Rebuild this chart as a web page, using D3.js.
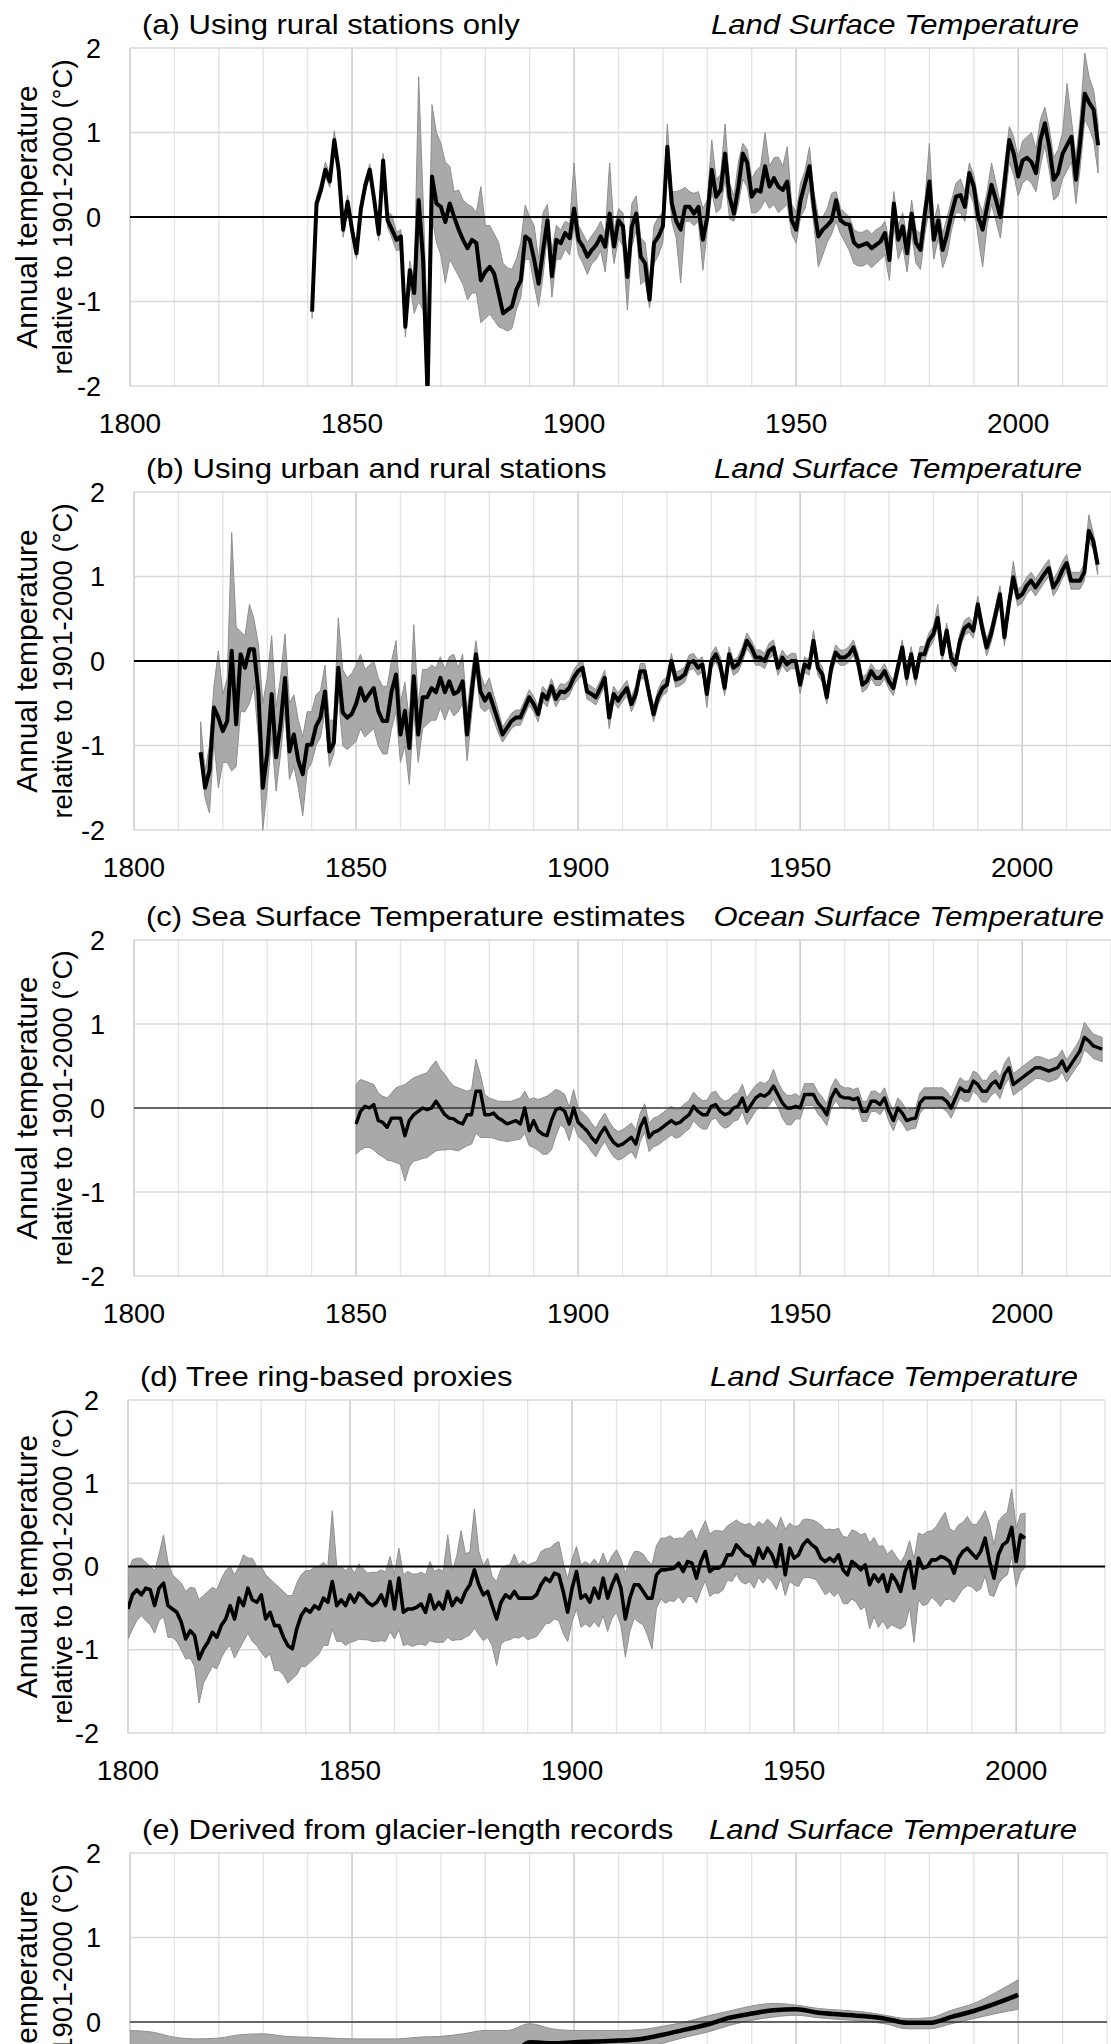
<!DOCTYPE html>
<html>
<head>
<meta charset="utf-8">
<script src="https://cdn.jsdelivr.net/npm/d3@7"></script>
<style>
  body { margin: 0; background: #fff; }
  svg { display: block; }
  text { font-family: "Liberation Sans", Arial, sans-serif; fill: #000; }
</style>
</head>
<body>
<div id="chart"></div>
<script>
////// DATA (anomalies in degC relative to 1901-2000)

// x axis labels, y axis labels, grid decades
var xTickYears = [1800, 1850, 1900, 1950, 2000];
var yTickValues = [-2, -1, 0, 1, 2];
var gridYears = [1800, 1810, 1820, 1830, 1840, 1850, 1860, 1870, 1880, 1890, 1900,
                 1910, 1920, 1930, 1940, 1950, 1960, 1970, 1980, 1990, 2000, 2010, 2020];

var panelTitles = [
    "(a) Using rural stations only",
    "(b) Using urban and rural stations",
    "(c) Sea Surface Temperature estimates",
    "(d) Tree ring-based proxies",
    "(e) Derived from glacier-length records"
];
var panelSubtitles = [
    "Land Surface Temperature",
    "Land Surface Temperature",
    "Ocean Surface Temperature",
    "Land Surface Temperature",
    "Land Surface Temperature"
];
var yLabelTop = "Annual temperature";
var yLabelBottom = "relative to 1901-2000 (\u00B0C)";

// (a) rural stations, 1841-2018
var startA = 1841;
var meanA = [
    -1.12, 0.16, 0.32, 0.56, 0.42, 0.91, 0.55, -0.15, 0.18, -0.15,
    -0.43, 0.10, 0.38, 0.56, 0.20, -0.20, 0.67, -0.04, -0.15, -0.27,
    -0.23, -1.30, -0.63, -0.90, 0.20, -0.50, -2.10, 0.48, 0.16, 0.12,
    -0.06, 0.16, 0.00, -0.15, -0.27, -0.37, -0.27, -0.31, -0.75, -0.65,
    -0.59, -0.67, -0.90, -1.14, -1.10, -1.06, -0.86, -0.75, -0.23, -0.27,
    -0.50, -0.79, -0.40, -0.04, -0.70, -0.27, -0.31, -0.19, -0.25, 0.10,
    -0.27, -0.35, -0.47, -0.39, -0.33, -0.23, -0.35, 0.04, -0.35, -0.04,
    -0.11, -0.71, -0.11, 0.04, -0.47, -0.55, -0.98, -0.31, -0.23, -0.11,
    0.83, 0.16, -0.05, -0.15, 0.12, 0.12, 0.04, 0.12, -0.27, 0.00,
    0.56, 0.24, 0.32, 0.75, 0.24, 0.04, 0.36, 0.75, 0.64, 0.24,
    0.32, 0.30, 0.60, 0.36, 0.46, 0.36, 0.32, 0.42, -0.04, -0.15,
    0.20, 0.40, 0.60, 0.12, -0.23, -0.15, -0.10, -0.04, 0.20, -0.04,
    -0.08, -0.09, -0.30, -0.35, -0.33, -0.31, -0.37, -0.33, -0.29, -0.19,
    -0.51, 0.16, -0.27, -0.11, -0.43, 0.04, -0.31, -0.39, 0.04, 0.42,
    -0.27, -0.04, -0.39, -0.20, 0.04, 0.24, 0.26, 0.12, 0.52, 0.36,
    0.00, -0.15, 0.12, 0.38, 0.20, 0.00, 0.44, 0.91, 0.75, 0.48,
    0.67, 0.70, 0.65, 0.52, 0.91, 1.11, 0.83, 0.44, 0.52, 0.75,
    0.85, 0.95, 0.44, 0.91, 1.46, 1.35, 1.27, 0.85
];
var loA = [
    -1.20, 0.08, 0.25, 0.48, 0.35, 0.84, 0.48, -0.24, 0.10, -0.24,
    -0.50, 0.03, 0.30, 0.48, 0.12, -0.28, 0.58, -0.12, -0.25, -0.40,
    -0.38, -1.42, -0.78, -1.14, -1.00, -1.10, -2.30, 0.00, -0.30, -0.45,
    -0.78, -0.50, -0.60, -0.70, -0.80, -0.98, -0.90, -0.90, -1.25, -1.20,
    -1.15, -1.22, -1.30, -1.32, -1.35, -1.32, -1.10, -0.95, -0.50, -0.50,
    -0.80, -1.06, -0.70, -0.20, -0.95, -0.50, -0.50, -0.38, -0.45, -0.10,
    -0.45, -0.55, -0.68, -0.55, -0.50, -0.40, -0.65, -0.15, -0.55, -0.25,
    -0.35, -1.10, -0.35, -0.15, -0.80, -0.75, -1.08, -0.55, -0.45, -0.30,
    0.60, -0.05, -0.25, -0.78, -0.05, -0.05, -0.10, -0.05, -0.63, -0.15,
    0.30, 0.05, 0.10, 0.45, -0.02, -0.05, 0.15, 0.45, 0.35, 0.05,
    0.05, 0.10, 0.20, 0.10, 0.15, 0.05, 0.10, 0.15, -0.20, -0.31,
    0.00, 0.10, 0.35, -0.10, -0.59, -0.45, -0.30, -0.20, -0.05, -0.20,
    -0.30, -0.40, -0.55, -0.58, -0.58, -0.55, -0.60, -0.55, -0.50, -0.45,
    -0.75, -0.10, -0.50, -0.35, -0.65, -0.20, -0.55, -0.62, -0.20, 0.10,
    -0.50, -0.25, -0.60, -0.45, -0.15, 0.05, 0.05, -0.05, 0.30, 0.15,
    -0.25, -0.59, -0.10, 0.15, -0.05, -0.25, 0.20, 0.65, 0.50, 0.25,
    0.40, 0.45, 0.40, 0.30, 0.60, 0.85, 0.55, 0.20, 0.25, 0.45,
    0.55, 0.65, 0.16, 0.60, 1.15, 1.05, 0.90, 0.52
];
var hiA = [
    -1.05, 0.24, 0.42, 0.65, 0.50, 1.02, 0.62, -0.08, 0.26, -0.08,
    -0.36, 0.17, 0.45, 0.63, 0.27, -0.12, 0.75, 0.06, 0.02, -0.18,
    -0.15, -1.15, -0.52, -0.75, 1.66, 0.20, -1.40, 1.33, 1.00, 0.87,
    0.65, 0.60, 0.30, 0.32, 0.20, 0.15, 0.12, 0.05, 0.36, -0.10,
    -0.10, -0.20, -0.30, -0.55, -0.60, -0.62, -0.50, -0.30, 0.14, 0.00,
    -0.10, -0.50, 0.05, 0.15, -0.40, -0.10, -0.15, -0.05, -0.08, 0.64,
    -0.10, -0.20, -0.30, -0.22, -0.15, -0.05, -0.20, 0.64, -0.15, 0.10,
    0.05, -0.50, 0.16, 0.25, -0.25, -0.30, -0.75, -0.10, 0.00, 0.05,
    1.10, 0.30, 0.30, 0.32, 0.35, 0.30, 0.28, 0.30, 0.10, 0.20,
    0.91, 0.45, 0.50, 1.10, 0.40, 0.25, 0.65, 0.87, 0.80, 0.45,
    0.55, 0.60, 1.00, 0.60, 0.70, 0.71, 0.60, 0.83, 0.15, 0.05,
    0.40, 0.55, 0.83, 0.30, 0.00, 0.00, 0.10, 0.28, 0.30, 0.10,
    0.05, 0.00, -0.15, -0.18, -0.18, -0.15, -0.20, -0.15, -0.12, -0.05,
    -0.30, 0.30, -0.10, 0.05, -0.25, 0.20, -0.15, -0.20, 0.20, 0.87,
    -0.05, 0.15, -0.20, 0.00, 0.20, 0.40, 0.45, 0.30, 0.64, 0.50,
    0.20, 0.05, 0.30, 0.64, 0.40, 0.15, 0.65, 1.07, 0.95, 0.70,
    0.90, 0.95, 1.00, 0.80, 1.15, 1.30, 1.05, 0.70, 0.80, 1.00,
    1.58, 1.15, 0.70, 1.20, 1.94, 1.65, 1.50, 1.10
];

// (b) urban and rural stations, 1815-2017 (band given as distance above / below the mean)
var startB = 1815;
var meanB = [
    -1.08, -1.50, -1.30, -0.55, -0.67,
    -0.83, -0.71, 0.12, -0.75, 0.08, -0.08, 0.14, 0.14, -0.36, -1.50,
    -1.10, -0.39, -1.14, -0.75, -0.20, -1.07, -0.87, -1.18, -1.34, -0.99,
    -0.99, -0.77, -0.67, -0.36, -1.07, -0.97, -0.08, -0.61, -0.67, -0.63,
    -0.51, -0.32, -0.47, -0.39, -0.32, -0.59, -0.71, -0.71, -0.36, -0.16,
    -0.87, -0.59, -1.03, -0.18, -0.87, -0.43, -0.43, -0.32, -0.37, -0.20,
    -0.37, -0.24, -0.39, -0.36, -0.24, -0.87, -0.39, 0.08, -0.36, -0.47,
    -0.39, -0.55, -0.71, -0.87, -0.79, -0.71, -0.67, -0.67, -0.55, -0.43,
    -0.51, -0.63, -0.39, -0.45, -0.30, -0.45, -0.36, -0.37, -0.32, -0.20,
    -0.12, -0.08, -0.36, -0.39, -0.43, -0.32, -0.20, -0.67, -0.39, -0.47,
    -0.39, -0.32, -0.51, -0.39, -0.12, -0.12, -0.39, -0.63, -0.43, -0.32,
    -0.28, 0.00, -0.22, -0.20, -0.16, -0.02, 0.00, -0.08, -0.04, -0.39,
    0.00, 0.08, -0.04, -0.32, 0.08, -0.08, -0.04, 0.08, 0.24, 0.16,
    0.04, 0.04, 0.00, 0.12, 0.16, -0.08, 0.04, -0.04, 0.00, 0.00,
    -0.28, -0.04, -0.08, 0.24, -0.08, -0.16, -0.43, -0.08, 0.10, 0.04,
    0.04, 0.08, 0.16, 0.00, -0.28, -0.24, -0.12, -0.20, -0.20, -0.12,
    -0.24, -0.32, -0.08, 0.16, -0.20, 0.08, -0.20, 0.08, 0.08, 0.24,
    0.32, 0.51, 0.08, 0.36, 0.04, -0.04, 0.24, 0.39, 0.43, 0.36,
    0.67, 0.39, 0.16, 0.32, 0.55, 0.79, 0.28, 0.67, 0.99, 0.75,
    0.79, 0.89, 0.95, 0.87, 0.95, 1.03, 1.10, 0.87, 0.95, 1.07,
    1.16, 0.95, 0.95, 0.95, 1.05, 1.54, 1.42, 1.14
];
var upB = [
    0.36, 0.20, 0.30, 0.25, 0.79,
    0.43, 0.51, 1.40, 1.15, 0.27, 0.38, 0.53, 0.36, 0.56, 1.00,
    0.90, 0.69, 0.59, 0.55, 0.52, 0.57, 0.47, 0.48, 0.44, 0.39,
    0.39, 0.37, 0.32, 0.31, 0.37, 0.27, 0.59, 0.51, 0.47, 0.48,
    0.46, 0.40, 0.37, 0.34, 0.32, 0.39, 0.41, 0.41, 0.36, 0.40,
    0.37, 0.34, 0.33, 0.61, 0.37, 0.33, 0.33, 0.27, 0.29, 0.25,
    0.27, 0.29, 0.47, 0.28, 0.32, 0.27, 0.24, 0.16, 0.21, 0.17,
    0.19, 0.15, 0.13, 0.09, 0.09, 0.09, 0.09, 0.09, 0.09, 0.09,
    0.09, 0.09, 0.09, 0.09, 0.09, 0.09, 0.09, 0.09, 0.09, 0.09,
    0.09, 0.09, 0.09, 0.09, 0.09, 0.09, 0.09, 0.09, 0.09, 0.09,
    0.09, 0.09, 0.09, 0.09, 0.09, 0.09, 0.09, 0.09, 0.09, 0.09,
    0.09, 0.09, 0.09, 0.09, 0.09, 0.09, 0.09, 0.09, 0.09, 0.09,
    0.09, 0.09, 0.09, 0.09, 0.09, 0.09, 0.09, 0.09, 0.09, 0.09,
    0.09, 0.09, 0.09, 0.09, 0.09, 0.09, 0.09, 0.09, 0.09, 0.09,
    0.09, 0.09, 0.09, 0.12, 0.09, 0.09, 0.09, 0.09, 0.09, 0.09,
    0.09, 0.09, 0.09, 0.09, 0.09, 0.09, 0.09, 0.09, 0.09, 0.09,
    0.09, 0.09, 0.09, 0.09, 0.09, 0.09, 0.09, 0.09, 0.09, 0.09,
    0.09, 0.16, 0.09, 0.09, 0.09, 0.09, 0.09, 0.09, 0.09, 0.09,
    0.10, 0.10, 0.10, 0.10, 0.10, 0.10, 0.10, 0.10, 0.19, 0.10,
    0.10, 0.10, 0.10, 0.10, 0.10, 0.10, 0.10, 0.10, 0.10, 0.10,
    0.10, 0.10, 0.10, 0.10, 0.10, 0.19, 0.10, 0.10
];
var dnB = [
    0.07, 0.12, 0.50, 0.40, 0.83,
    0.37, 0.49, 1.42, 0.50, 0.68, 0.52, 0.64, 0.44, 0.54, 0.50,
    0.40, 0.51, 0.40, 0.35, 0.40, 0.33, 0.38, 0.32, 0.49, 0.31,
    0.21, 0.23, 0.23, 0.24, 0.18, 0.13, 0.32, 0.39, 0.38, 0.37,
    0.44, 0.48, 0.43, 0.46, 0.48, 0.41, 0.39, 0.39, 0.44, 0.44,
    0.33, 0.41, 0.43, 0.42, 0.33, 0.37, 0.32, 0.38, 0.33, 0.35,
    0.33, 0.31, 0.26, 0.24, 0.26, 0.31, 0.26, 0.18, 0.19, 0.13,
    0.16, 0.15, 0.14, 0.09, 0.09, 0.09, 0.09, 0.09, 0.09, 0.09,
    0.09, 0.09, 0.09, 0.09, 0.09, 0.09, 0.09, 0.09, 0.09, 0.09,
    0.09, 0.09, 0.09, 0.09, 0.09, 0.09, 0.09, 0.13, 0.09, 0.09,
    0.09, 0.09, 0.09, 0.09, 0.09, 0.09, 0.09, 0.09, 0.09, 0.09,
    0.09, 0.09, 0.09, 0.09, 0.09, 0.09, 0.09, 0.09, 0.09, 0.16,
    0.09, 0.09, 0.09, 0.09, 0.09, 0.09, 0.09, 0.09, 0.09, 0.09,
    0.09, 0.09, 0.09, 0.09, 0.09, 0.09, 0.09, 0.09, 0.09, 0.09,
    0.11, 0.09, 0.09, 0.09, 0.09, 0.09, 0.08, 0.09, 0.09, 0.09,
    0.09, 0.09, 0.09, 0.09, 0.09, 0.09, 0.09, 0.09, 0.09, 0.09,
    0.09, 0.09, 0.09, 0.09, 0.09, 0.09, 0.09, 0.09, 0.09, 0.09,
    0.09, 0.09, 0.09, 0.09, 0.09, 0.09, 0.09, 0.09, 0.09, 0.09,
    0.10, 0.10, 0.10, 0.10, 0.10, 0.10, 0.10, 0.10, 0.10, 0.10,
    0.10, 0.10, 0.10, 0.10, 0.10, 0.10, 0.10, 0.10, 0.10, 0.10,
    0.10, 0.10, 0.10, 0.10, 0.10, 0.12, 0.10, 0.12
];

// (c) sea surface temperature, 1850-2018
var startC = 1850;
var meanC = [
    -0.19, -0.04, 0.02, 0.00, 0.04, -0.15, -0.17, -0.23, -0.12, -0.12,
    -0.12, -0.33, -0.15, -0.08, -0.04, 0.00, -0.02, 0.00, 0.08, 0.00,
    -0.08, -0.12, -0.13, -0.17, -0.19, -0.08, -0.08, 0.20, 0.20, -0.08,
    -0.08, -0.06, -0.12, -0.15, -0.19, -0.17, -0.15, -0.19, 0.00, -0.27,
    -0.15, -0.27, -0.31, -0.33, -0.15, -0.02, 0.00, -0.04, -0.19, 0.00,
    -0.17, -0.22, -0.27, -0.35, -0.41, -0.31, -0.23, -0.33, -0.41, -0.45,
    -0.43, -0.39, -0.35, -0.43, -0.23, -0.12, -0.35, -0.29, -0.27, -0.23,
    -0.19, -0.15, -0.19, -0.17, -0.12, -0.08, 0.02, -0.04, -0.08, -0.08,
    0.02, 0.04, -0.04, -0.08, -0.06, 0.00, 0.02, 0.12, -0.04, 0.04,
    0.12, 0.16, 0.14, 0.18, 0.26, 0.16, 0.06, 0.00, 0.00, 0.02,
    0.00, 0.16, 0.16, 0.16, 0.06, 0.00, -0.08, 0.12, 0.22, 0.14,
    0.12, 0.12, 0.10, 0.12, -0.04, -0.04, 0.08, 0.08, 0.04, 0.12,
    -0.04, -0.15, 0.00, -0.06, -0.15, -0.13, -0.12, 0.06, 0.12, 0.12,
    0.12, 0.12, 0.12, 0.08, 0.00, 0.12, 0.24, 0.20, 0.20, 0.32,
    0.28, 0.20, 0.20, 0.28, 0.32, 0.24, 0.40, 0.48, 0.28, 0.32,
    0.36, 0.40, 0.44, 0.48, 0.48, 0.46, 0.44, 0.46, 0.48, 0.56,
    0.44, 0.52, 0.60, 0.68, 0.84, 0.80, 0.74, 0.72, 0.70
];
var upC = [
    0.47, 0.38, 0.30, 0.30, 0.24, 0.33, 0.31, 0.35, 0.30, 0.36,
    0.38, 0.61, 0.47, 0.44, 0.42, 0.40, 0.44, 0.50, 0.48, 0.46,
    0.48, 0.44, 0.39, 0.41, 0.41, 0.28, 0.30, 0.38, 0.20, 0.24,
    0.20, 0.16, 0.20, 0.23, 0.27, 0.25, 0.25, 0.31, 0.20, 0.37,
    0.27, 0.37, 0.43, 0.47, 0.33, 0.24, 0.20, 0.20, 0.20, 0.22,
    0.17, 0.17, 0.17, 0.17, 0.17, 0.17, 0.17, 0.17, 0.17, 0.17,
    0.17, 0.17, 0.17, 0.17, 0.17, 0.17, 0.17, 0.17, 0.17, 0.17,
    0.17, 0.17, 0.17, 0.17, 0.17, 0.17, 0.17, 0.17, 0.17, 0.17,
    0.16, 0.16, 0.16, 0.16, 0.16, 0.16, 0.16, 0.16, 0.16, 0.16,
    0.15, 0.15, 0.15, 0.15, 0.20, 0.15, 0.15, 0.15, 0.15, 0.15,
    0.13, 0.13, 0.13, 0.13, 0.13, 0.13, 0.13, 0.13, 0.13, 0.13,
    0.12, 0.12, 0.12, 0.12, 0.12, 0.12, 0.12, 0.12, 0.12, 0.12,
    0.12, 0.12, 0.12, 0.12, 0.12, 0.12, 0.12, 0.12, 0.12, 0.12,
    0.12, 0.12, 0.12, 0.12, 0.12, 0.12, 0.12, 0.12, 0.12, 0.12,
    0.13, 0.13, 0.13, 0.13, 0.13, 0.13, 0.13, 0.13, 0.13, 0.13,
    0.13, 0.13, 0.13, 0.13, 0.13, 0.13, 0.13, 0.13, 0.13, 0.13,
    0.13, 0.13, 0.13, 0.14, 0.18, 0.15, 0.14, 0.14, 0.14
];
var dnC = [
    0.36, 0.46, 0.49, 0.47, 0.54, 0.40, 0.41, 0.39, 0.51, 0.53,
    0.55, 0.54, 0.55, 0.55, 0.58, 0.60, 0.57, 0.55, 0.59, 0.50,
    0.42, 0.37, 0.37, 0.34, 0.29, 0.37, 0.35, 0.50, 0.55, 0.27,
    0.27, 0.30, 0.26, 0.24, 0.21, 0.22, 0.23, 0.18, 0.30, 0.18,
    0.32, 0.23, 0.24, 0.22, 0.35, 0.31, 0.20, 0.20, 0.20, 0.20,
    0.17, 0.17, 0.17, 0.17, 0.17, 0.17, 0.17, 0.17, 0.17, 0.17,
    0.17, 0.17, 0.17, 0.17, 0.17, 0.17, 0.17, 0.17, 0.17, 0.17,
    0.17, 0.17, 0.17, 0.17, 0.17, 0.17, 0.17, 0.17, 0.17, 0.17,
    0.16, 0.16, 0.16, 0.16, 0.16, 0.16, 0.16, 0.16, 0.16, 0.16,
    0.15, 0.15, 0.15, 0.15, 0.15, 0.15, 0.18, 0.20, 0.20, 0.15,
    0.13, 0.13, 0.13, 0.13, 0.13, 0.13, 0.13, 0.13, 0.13, 0.13,
    0.12, 0.12, 0.12, 0.12, 0.12, 0.12, 0.12, 0.12, 0.12, 0.12,
    0.12, 0.12, 0.12, 0.12, 0.12, 0.12, 0.12, 0.12, 0.12, 0.12,
    0.12, 0.12, 0.12, 0.12, 0.12, 0.12, 0.12, 0.12, 0.12, 0.12,
    0.13, 0.13, 0.13, 0.13, 0.13, 0.13, 0.13, 0.13, 0.13, 0.13,
    0.13, 0.13, 0.13, 0.13, 0.13, 0.13, 0.13, 0.13, 0.13, 0.13,
    0.13, 0.13, 0.13, 0.14, 0.15, 0.15, 0.15, 0.15, 0.15
];

// (d) tree ring-based proxies, 1800-2002
var startD = 1800;
var meanD = [
    -0.51, -0.34, -0.28, -0.34, -0.26, -0.28, -0.47, -0.26, -0.20, -0.47,
    -0.51, -0.55, -0.67, -0.87, -0.77, -0.83, -1.11, -0.99, -0.91, -0.79,
    -0.85, -0.71, -0.63, -0.47, -0.63, -0.38, -0.47, -0.26, -0.40, -0.43,
    -0.34, -0.63, -0.55, -0.71, -0.71, -0.85, -0.95, -0.99, -0.75, -0.59,
    -0.51, -0.55, -0.47, -0.51, -0.38, -0.43, -0.18, -0.47, -0.40, -0.47,
    -0.34, -0.43, -0.32, -0.36, -0.43, -0.47, -0.43, -0.34, -0.47, -0.18,
    -0.51, -0.14, -0.55, -0.51, -0.51, -0.49, -0.45, -0.55, -0.34, -0.51,
    -0.43, -0.51, -0.30, -0.47, -0.38, -0.43, -0.30, -0.22, -0.04, -0.22,
    -0.34, -0.30, -0.47, -0.63, -0.43, -0.34, -0.38, -0.30, -0.38, -0.38,
    -0.38, -0.38, -0.34, -0.22, -0.14, -0.18, -0.08, -0.10, -0.30, -0.55,
    -0.26, -0.06, -0.38, -0.34, -0.43, -0.26, -0.38, -0.14, -0.38, -0.22,
    -0.10, -0.26, -0.63, -0.38, -0.22, -0.22, -0.30, -0.38, -0.38, -0.10,
    -0.04, -0.04, -0.03, -0.02, 0.04, -0.06, 0.06, 0.04, -0.14, 0.06,
    0.18, -0.06, -0.02, -0.02, 0.02, 0.14, 0.14, 0.26, 0.20, 0.14,
    0.12, 0.02, 0.22, 0.10, 0.22, 0.14, 0.00, 0.26, -0.10, 0.22,
    0.10, 0.14, 0.26, 0.32, 0.26, 0.22, 0.10, 0.06, 0.10, 0.06,
    0.14, -0.04, -0.10, 0.06, 0.02, -0.04, 0.02, -0.22, -0.10, -0.18,
    -0.10, -0.30, -0.10, -0.18, -0.30, -0.06, 0.06, -0.26, 0.10, -0.02,
    0.00, 0.08, 0.08, 0.12, 0.10, 0.06, -0.08, 0.10, 0.18, 0.22,
    0.16, 0.10, 0.18, 0.34, 0.06, -0.14, 0.14, 0.26, 0.30, 0.47,
    0.06, 0.38, 0.34
];
var upD = [
    0.45, 0.42, 0.38, 0.44, 0.31, 0.28, 0.42, 0.41, 0.58, 0.52,
    0.41, 0.40, 0.47, 0.57, 0.52, 0.57, 0.71, 0.64, 0.61, 0.54,
    0.57, 0.56, 0.58, 0.47, 0.53, 0.38, 0.61, 0.36, 0.50, 0.43,
    0.34, 0.53, 0.40, 0.51, 0.46, 0.55, 0.60, 0.64, 0.55, 0.49,
    0.46, 0.50, 0.47, 0.51, 0.43, 0.43, 0.85, 0.47, 0.40, 0.42,
    0.34, 0.35, 0.35, 0.33, 0.35, 0.40, 0.36, 0.30, 0.40, 0.30,
    0.42, 0.36, 0.45, 0.45, 0.42, 0.40, 0.38, 0.45, 0.40, 0.45,
    0.40, 0.45, 0.68, 0.42, 0.50, 0.86, 0.45, 0.40, 0.73, 0.40,
    0.35, 0.40, 0.35, 0.45, 0.40, 0.35, 0.40, 0.45, 0.40, 0.45,
    0.40, 0.42, 0.40, 0.40, 0.35, 0.40, 0.35, 0.40, 0.35, 0.40,
    0.35, 0.30, 0.40, 0.40, 0.45, 0.35, 0.40, 0.30, 0.40, 0.35,
    0.30, 0.35, 0.55, 0.45, 0.40, 0.40, 0.45, 0.45, 0.40, 0.35,
    0.38, 0.38, 0.40, 0.35, 0.30, 0.40, 0.35, 0.40, 0.45, 0.38,
    0.37, 0.45, 0.45, 0.45, 0.40, 0.35, 0.38, 0.30, 0.32, 0.36,
    0.40, 0.45, 0.32, 0.40, 0.35, 0.38, 0.45, 0.33, 0.55, 0.30,
    0.38, 0.35, 0.30, 0.25, 0.30, 0.32, 0.40, 0.38, 0.35, 0.38,
    0.32, 0.40, 0.45, 0.38, 0.40, 0.42, 0.38, 0.50, 0.45, 0.42,
    0.35, 0.45, 0.30, 0.30, 0.35, 0.20, 0.25, 0.35, 0.30, 0.40,
    0.42, 0.35, 0.40, 0.45, 0.55, 0.40, 0.50, 0.40, 0.35, 0.38,
    0.35, 0.40, 0.40, 0.33, 0.45, 0.40, 0.40, 0.35, 0.35, 0.46,
    0.40, 0.25, 0.30
];
var dnD = [
    0.36, 0.41, 0.37, 0.25, 0.39, 0.42, 0.33, 0.39, 0.40, 0.38,
    0.34, 0.35, 0.33, 0.24, 0.33, 0.37, 0.53, 0.41, 0.39, 0.41,
    0.38, 0.39, 0.37, 0.48, 0.47, 0.62, 0.43, 0.54, 0.50, 0.52,
    0.69, 0.47, 0.50, 0.54, 0.54, 0.45, 0.45, 0.36, 0.55, 0.61,
    0.69, 0.60, 0.63, 0.54, 0.57, 0.52, 0.57, 0.43, 0.50, 0.48,
    0.57, 0.47, 0.55, 0.52, 0.45, 0.43, 0.47, 0.55, 0.43, 0.60,
    0.36, 0.62, 0.40, 0.42, 0.45, 0.45, 0.48, 0.40, 0.55, 0.40,
    0.48, 0.40, 0.55, 0.42, 0.50, 0.45, 0.55, 0.60, 0.70, 0.60,
    0.55, 0.55, 0.48, 0.56, 0.50, 0.55, 0.50, 0.55, 0.48, 0.45,
    0.50, 0.48, 0.50, 0.55, 0.55, 0.50, 0.55, 0.55, 0.50, 0.35,
    0.40, 0.45, 0.35, 0.35, 0.30, 0.40, 0.35, 0.45, 0.40, 0.40,
    0.45, 0.45, 0.46, 0.40, 0.40, 0.45, 0.40, 0.45, 0.61, 0.40,
    0.35, 0.40, 0.38, 0.40, 0.40, 0.38, 0.42, 0.40, 0.30, 0.35,
    0.35, 0.30, 0.30, 0.30, 0.30, 0.30, 0.32, 0.35, 0.38, 0.35,
    0.30, 0.28, 0.35, 0.30, 0.35, 0.32, 0.28, 0.40, 0.25, 0.40,
    0.32, 0.38, 0.40, 0.45, 0.40, 0.38, 0.35, 0.40, 0.40, 0.42,
    0.45, 0.40, 0.35, 0.45, 0.45, 0.48, 0.50, 0.53, 0.50, 0.55,
    0.55, 0.45, 0.60, 0.55, 0.45, 0.65, 0.55, 0.65, 0.50, 0.45,
    0.45, 0.45, 0.50, 0.60, 0.50, 0.45, 0.35, 0.45, 0.45, 0.45,
    0.40, 0.40, 0.45, 0.45, 0.40, 0.22, 0.35, 0.40, 0.40, 0.35,
    0.30, 0.45, 0.35
];

// (e) glacier-length records, smooth series read every 5 years
var yearsE = [1800, 1805, 1810, 1815, 1820, 1825, 1830, 1835, 1840, 1845, 1850, 1855, 1860, 1865,
              1870, 1875, 1880, 1885, 1890, 1895, 1900, 1905, 1910, 1915, 1920, 1925, 1930, 1935,
              1940, 1945, 1950, 1955, 1960, 1965, 1970, 1975, 1980, 1985, 1990, 1995, 2000];
var meanE = [-0.45, -0.47, -0.52, -0.55, -0.55, -0.50, -0.50, -0.52, -0.55, -0.56, -0.57, -0.57, -0.57, -0.55,
             -0.54, -0.50, -0.46, -0.45, -0.24, -0.25, -0.24, -0.23, -0.22, -0.20, -0.15, -0.09, -0.03, 0.05,
             0.10, 0.14, 0.15, 0.11, 0.09, 0.07, 0.04, -0.01, -0.01, 0.06, 0.13, 0.22, 0.32];
var hiE = [-0.10, -0.12, -0.18, -0.20, -0.19, -0.15, -0.14, -0.17, -0.18, -0.19, -0.20, -0.20, -0.20, -0.18,
           -0.17, -0.14, -0.10, -0.10, -0.02, -0.08, -0.10, -0.10, -0.10, -0.09, -0.05, 0.00, 0.07, 0.13,
           0.19, 0.22, 0.20, 0.16, 0.14, 0.12, 0.08, 0.04, 0.05, 0.14, 0.22, 0.35, 0.50];
var loE = [-0.80, -0.82, -0.86, -0.90, -0.91, -0.85, -0.86, -0.87, -0.92, -0.93, -0.94, -0.94, -0.94, -0.92,
           -0.91, -0.86, -0.82, -0.80, -0.40, -0.38, -0.36, -0.34, -0.33, -0.31, -0.25, -0.18, -0.12, -0.04,
           0.02, 0.06, 0.08, 0.05, 0.03, 0.01, -0.02, -0.08, -0.08, -0.02, 0.04, 0.10, 0.15];

////// BUILD ROW TABLES FOR D3
function annualRows(start, mean, lo, hi) {
    return mean.map(function(v, i) {
        return { yr: start + i, v: v, lo: lo[i], hi: hi[i] };
    });
}
function offsetRows(start, mean, up, dn) {
    return mean.map(function(v, i) {
        return { yr: start + i, v: v, lo: v - dn[i], hi: v + up[i] };
    });
}
var rowsE = yearsE.map(function(yr, i) {
    return { yr: yr, v: meanE[i], lo: loE[i], hi: hiE[i] };
});

////// PANEL LAYOUT
var pageHeight = 2044;
var panels = [
    { id: "a", rows: annualRows(startA, meanA, loA, hiA), top: 48, bottom: 386, dx: 0, zeroW: 2, lineW: 4, subEnd: 1079, curve: d3.curveLinear },
    { id: "b", rows: offsetRows(startB, meanB, upB, dnB), top: 492, bottom: 830, dx: 4, zeroW: 2, lineW: 4, subEnd: 1082, curve: d3.curveLinear },
    { id: "c", rows: offsetRows(startC, meanC, upC, dnC), top: 940, bottom: 1276, dx: 4, zeroW: 1.3, lineW: 3.4, subEnd: 1104, curve: d3.curveLinear },
    { id: "d", rows: offsetRows(startD, meanD, upD, dnD), top: 1400, bottom: 1733, dx: -2, zeroW: 2, lineW: 3.6, subEnd: 1078, curve: d3.curveLinear },
    { id: "e", rows: rowsE, top: 1853, bottom: 2191, dx: 0, zeroW: 1.3, lineW: 4.5, subEnd: 1077, curve: d3.curveMonotoneX }
];

////// SETUP SVG
var svg = d3.select("#chart")
    .append("svg")
    .attr("width", 1111)
    .attr("height", pageHeight);

var defs = svg.append("defs");

function drawPanel(p, idx) {
    var x = d3.scaleLinear().domain([1800, 2020]).range([130 + p.dx, 1107 + p.dx]);
    var y = d3.scaleLinear().domain([-2, 2]).range([p.bottom, p.top]);
    var g = svg.append("g").attr("class", "panel-" + p.id);

    // clip marks to the plot area
    defs.append("clipPath").attr("id", "clip-" + p.id)
        .append("rect")
        .attr("x", x(1800)).attr("y", y(2))
        .attr("width", x(2020) - x(1800)).attr("height", y(-2) - y(2));

    // vertical grid, every decade, a little darker every 50 years
    g.selectAll("line.vgrid").data(gridYears).enter().append("line")
        .attr("x1", function(d) { return x(d); })
        .attr("x2", function(d) { return x(d); })
        .attr("y1", y(2)).attr("y2", y(-2))
        .attr("stroke", function(d) { return d % 50 === 0 ? "#cdcdcd" : "#e3e3e3"; })
        .attr("stroke-width", function(d) { return d % 50 === 0 ? 1.6 : 1.3; });

    // horizontal grid
    g.selectAll("line.hgrid").data(yTickValues.filter(function(v) { return v !== 0; })).enter().append("line")
        .attr("x1", x(1800)).attr("x2", x(2020))
        .attr("y1", function(d) { return y(d); })
        .attr("y2", function(d) { return y(d); })
        .attr("stroke", "#d8d8d8")
        .attr("stroke-width", 1.5);

    // uncertainty band
    g.append("path").datum(p.rows)
        .attr("clip-path", "url(#clip-" + p.id + ")")
        .attr("d", d3.area()
            .curve(p.curve)
            .x(function(d) { return x(d.yr); })
            .y0(function(d) { return y(d.lo); })
            .y1(function(d) { return y(d.hi); }))
        .attr("fill", "#a9a9a9")
        .attr("stroke", "#8e8e8e")
        .attr("stroke-width", 1);

    // zero line
    g.append("line")
        .attr("x1", x(1800)).attr("x2", x(2020))
        .attr("y1", y(0)).attr("y2", y(0))
        .attr("stroke", p.zeroW < 2 ? "#333" : "#000")
        .attr("stroke-width", p.zeroW);

    // mean
    g.append("path").datum(p.rows)
        .attr("clip-path", "url(#clip-" + p.id + ")")
        .attr("d", d3.line()
            .curve(p.curve)
            .x(function(d) { return x(d.yr); })
            .y(function(d) { return y(d.v); }))
        .attr("fill", "none")
        .attr("stroke", "#000")
        .attr("stroke-width", p.lineW)
        .attr("stroke-linejoin", "round");

    // x tick labels (only those that fall on the page)
    if (p.bottom + 47 < pageHeight) {
        g.selectAll("text.xtick").data(xTickYears).enter().append("text")
            .attr("transform", function(d) { return "translate(" + x(d) + "," + (p.bottom + 47) + ")"; })
            .attr("text-anchor", "middle")
            .attr("font-size", "28px")
            .text(function(d) { return d; });
    }

    // y tick labels
    g.selectAll("text.ytick").data(yTickValues.filter(function(v) { return y(v) + 12 < pageHeight; }))
        .enter().append("text")
        .attr("transform", function(d) { return "translate(" + (x(1800) - 29) + "," + y(d) + ")"; })
        .attr("text-anchor", "end")
        .attr("dy", "0.36em")
        .attr("font-size", "27px")
        .text(function(d) { return d; });

    // y axis title, two lines
    var cy = (p.top + p.bottom) / 2;
    g.append("text")
        .attr("transform", "translate(37," + cy + ") rotate(-90)")
        .attr("text-anchor", "middle")
        .attr("font-size", "30px")
        .text(yLabelTop);
    g.append("text")
        .attr("transform", "translate(72," + cy + ") rotate(-90)")
        .attr("text-anchor", "middle")
        .attr("font-size", "27.5px")
        .text(yLabelBottom);

    // panel titles
    g.append("text")
        .attr("transform", "translate(" + (x(1800) + 12) + "," + (p.top - 14) + ") scale(1.15,1)")
        .attr("font-size", "27px")
        .text(panelTitles[idx]);
    g.append("text")
        .attr("transform", "translate(" + p.subEnd + "," + (p.top - 14) + ") scale(1.15,1)")
        .attr("text-anchor", "end")
        .attr("font-size", "27px")
        .attr("font-style", "italic")
        .text(panelSubtitles[idx]);
}

panels.forEach(drawPanel);
</script>
</body>
</html>
